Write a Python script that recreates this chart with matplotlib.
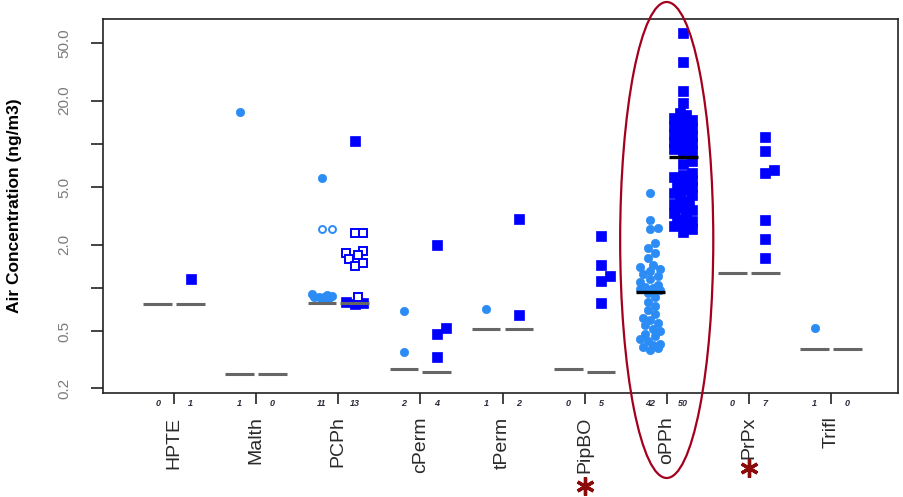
import numpy as np
import matplotlib.pyplot as plt
from matplotlib.patches import Ellipse
from matplotlib.transforms import blended_transform_factory

plt.rcParams['font.family'] = ['Liberation Sans', 'DejaVu Sans']

compounds = ['HPTE', 'Malth', 'PCPh', 'cPerm', 'tPerm', 'PipBO', 'oPPh', 'PrPx', 'Trifl']

# detected air concentrations (ng/m3): circles = left group, squares = right group
hpte_c, hpte_s = [], [1.16]
malth_c, malth_s = [16.7], []
pcph_c = [5.8, 0.9, 0.89, 0.88, 0.87, 0.86, 0.86, 0.85, 0.84]
pcph_s = [10.5, 0.8, 0.78, 0.77]
cperm_c, cperm_s = [0.69, 0.356], [2.0, 0.53, 0.48, 0.33]
tperm_c, tperm_s = [0.71], [2.99, 0.647]
pipbo_c, pipbo_s = [], [2.31, 1.45, 1.21, 1.12, 0.785]
opph_c = [4.6, 2.95, 2.6, 2.55, 2.05, 1.89, 1.75, 1.61,
          1.45, 1.4, 1.35, 1.3, 1.25, 1.2, 1.15, 1.1, 1.05, 1.02, 1.0, 0.98,
          0.96, 0.92, 0.86, 0.8, 0.75, 0.7,
          0.66, 0.62, 0.6, 0.57, 0.55, 0.52, 0.5, 0.48, 0.46, 0.44, 0.43,
          0.41, 0.4, 0.39, 0.38, 0.37]
opph_s = [59, 37, 23.3, 19.3,
          16.4, 15.8, 15.2, 14.7, 14.2, 13.8, 13.4, 13.0, 12.6, 12.2, 11.8,
          11.4, 11.0, 10.7, 10.4, 10.1, 9.8, 9.5, 9.2, 8.9, 8.6,
          7.6, 7.3, 6.3, 6.1, 5.9, 5.6, 5.4, 5.2, 5.0, 4.8, 4.6, 4.4, 4.2,
          4.0, 3.8, 3.6, 3.45, 3.3, 3.15, 3.0, 2.9, 2.8, 2.7, 2.55, 2.45]
prpx_c, prpx_s = [], [11.2, 8.9, 6.6, 6.3, 2.94, 2.2, 1.62]
trifl_c, trifl_s = [0.525], []

# hollow symbols (PCPh only)
pcph_c_open = [2.55, 2.55]
pcph_s_open = [2.41, 2.41, 1.8, 1.75, 1.7, 1.6, 1.5, 1.42, 0.865]

circles = [hpte_c, malth_c, pcph_c, cperm_c, tperm_c, pipbo_c, opph_c, prpx_c, trifl_c]
squares = [hpte_s, malth_s, pcph_s, cperm_s, tperm_s, pipbo_s, opph_s, prpx_s, trifl_s]
circles_open = {'PCPh': pcph_c_open}
squares_open = {'PCPh': pcph_s_open}

# reference levels (gray bars); None -> median drawn in black
level_c = [0.77, 0.252, 0.78, 0.273, 0.518, 0.273, None, 1.27, 0.376]
level_s = [0.77, 0.252, 0.78, 0.261, 0.518, 0.261, None, 1.27, 0.376]

yticks = [0.2, 0.5, 1, 2, 5, 10, 20, 50]
ytick_labels = ['0.2', '0.5', '', '2.0', '5.0', '', '20.0', '50.0']

W, H = 904, 497
fig = plt.figure(figsize=(W / 100, H / 100), dpi=100)
ax = fig.add_axes([103 / W, 1 - 393 / H, 795 / W, 374 / H])
ax.set_yscale('log')
ax.set_xlim(0.134, 9.817)
ax.set_ylim(0.186, 73.9)

CIRC = '#2b8cf5'
SQ = '#0000ff'
OFF = 0.2


def swarm(vals, xc, size_px, max_half_px):
    # simple deterministic beeswarm in pixel space
    vals = np.asarray(vals, float)
    if len(vals) == 0:
        return vals
    pix = ax.transData.transform(np.column_stack([np.full(len(vals), xc), vals]))
    ypix = pix[:, 1]
    ppu = ax.transData.transform((1, 1))[0] - ax.transData.transform((0, 1))[0]
    step = size_px * 0.3
    cands = [0.0]
    k = 1
    while k * step <= max_half_px:
        cands += [k * step, -k * step]
        k += 1
    placed = []
    xs = np.empty(len(vals))
    for i in np.argsort(vals):
        best, best_d = 0.0, -1
        for dx in cands:
            d = min([np.hypot(dx - px, ypix[i] - py) for px, py in placed] or [1e9])
            if d >= size_px * 0.9:
                best = dx
                break
            if d > best_d:
                best, best_d = dx, d
        placed.append((best, ypix[i]))
        xs[i] = xc + best / ppu
    return xs


for i, name in enumerate(compounds):
    pos = i + 1
    for side, filled, hollow, marker, color, ms, lev in (
            (-1, circles[i], circles_open.get(name, []), 'o', CIRC, 6.0, level_c[i]),
            (1, squares[i], squares_open.get(name, []), 's', SQ, 7.0, level_s[i])):
        xc = pos + side * OFF
        vals = list(filled) + list(hollow)
        xs = swarm(vals, xc, ms * 1.39, 11)
        nf = len(filled)
        if nf:
            ax.plot(xs[:nf], filled, ls='none', marker=marker, ms=ms,
                    mfc=color, mec=color, mew=0.5, zorder=3)
        if hollow:
            ax.plot(xs[nf:], hollow, ls='none', marker=marker, ms=ms - 1,
                    mfc='white', mec=color, mew=1.4, zorder=3)
        if lev is None:
            ax.plot([xc - 0.175, xc + 0.175], [np.median(vals)] * 2,
                    color='black', lw=2.4, solid_capstyle='butt', zorder=4)
        else:
            ax.plot([xc - 0.175, xc + 0.175], [lev, lev],
                    color='#666666', lw=2.2, solid_capstyle='butt', zorder=4)
        # number of detections under the axis
        ax.text(xc, -0.027, str(len(vals)), transform=ax.get_xaxis_transform(),
                ha='center', va='center', fontsize=6.5, fontstyle='italic',
                fontweight='bold', color='#2a2a3a')

ax.set_yticks(yticks)
ax.set_yticklabels(ytick_labels, rotation=90, va='center', color='#7a7a7a', fontsize=11)
ax.yaxis.set_minor_locator(plt.NullLocator())
ax.tick_params(axis='y', length=9, width=1.2, pad=14, colors='#222222', labelcolor='#7a7a7a')

ax.set_xticks(range(1, len(compounds) + 1))
ax.set_xticklabels(compounds, rotation=90, fontsize=14, color='#2a2a2a')
ax.tick_params(axis='x', length=8, width=1.2, pad=9, colors='#222222', labelcolor='#2a2a2a')

for sp in ax.spines.values():
    sp.set_linewidth(1.2)
    sp.set_color('#222222')

ax.set_ylabel('Air Concentration (ng/m3)', fontsize=12.5, fontweight='bold')
ax.yaxis.set_label_coords(-0.102, 0.5)

# highlight around oPPh and markers under PipBO / PrPx
bt = blended_transform_factory(ax.transData, fig.transFigure)
ell = Ellipse((7, 1 - 240 / H), width=93 / 82, height=476 / H, transform=bt,
              fill=False, ec='#a3001e', lw=1.6, clip_on=False, zorder=5)
fig.add_artist(ell)
for pos, ypx in ((6, 486), (8, 468)):
    ax.plot([pos], [1 - ypx / H], transform=bt, marker=(6, 2, 0), ms=13,
            mew=2.4, color='#8b0a0a', clip_on=False)

fig.savefig('out.png', dpi=100)
